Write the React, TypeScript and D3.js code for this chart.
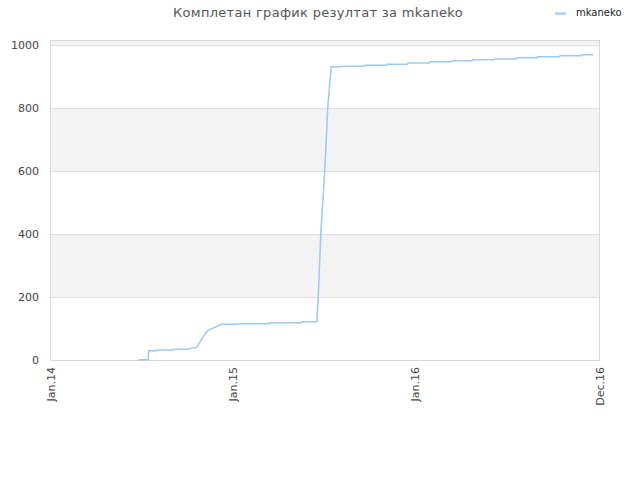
import { useEffect, useRef } from "react";
import * as d3 from "d3";

// chart text
const title = "Комплетан график резултат за mkaneko";
const seriesName = "mkaneko";

// x axis: tick dates and their labels
const tickDates = ["2014-01-01", "2015-01-01", "2016-01-01", "2017-01-06"];
const tickLabels = ["Jan.14", "Jan.15", "Jan.16", "Dec.16"];

// y axis ticks
const yTicks = [0, 200, 400, 600, 800, 1000];

// series (step corners)
const dates = [
  "2014-06-26", "2014-07-15", "2014-07-16", "2014-08-02", "2014-08-03",
  "2014-09-03", "2014-09-04", "2014-10-05", "2014-10-06", "2014-10-20",
  "2014-11-07", "2014-11-13", "2014-12-09", "2015-01-12", "2015-01-13",
  "2015-03-15", "2015-03-16", "2015-05-18", "2015-05-19", "2015-06-18",
  "2015-06-21", "2015-06-26", "2015-07-04", "2015-07-10", "2015-07-17",
  "2015-08-08", "2015-08-09", "2015-09-22", "2015-09-23", "2015-11-05",
  "2015-11-06", "2015-12-17", "2015-12-18", "2016-01-30", "2016-01-31",
  "2016-03-14", "2016-03-15", "2016-04-25", "2016-04-26", "2016-06-08",
  "2016-06-09", "2016-07-22", "2016-07-23", "2016-09-02", "2016-09-03",
  "2016-10-17", "2016-10-18", "2016-11-30", "2016-12-01", "2016-12-22",
  "2016-12-23",
];
const values = [
  1, 1, 29, 29, 32,
  32, 34, 34, 37, 40,
  86, 95, 113, 113, 115,
  115, 118, 118, 121, 121,
  200, 400, 600, 800, 930,
  930, 932, 932, 935, 935,
  938, 938, 942, 942, 946,
  946, 949, 949, 952, 952,
  955, 955, 959, 959, 962,
  962, 965, 965, 968, 968,
  970,
];

const W = 640;
const H = 480;
const margin = { top: 40, right: 40, bottom: 120, left: 51 };
const textColor = "#444";
const lineColor = "#99c9f5";

export default function App() {
  const ref = useRef<SVGSVGElement>(null);

  useEffect(() => {
    const svg = d3.select(ref.current);
    svg.selectAll("*").remove();

    const parse = d3.utcParse("%Y-%m-%d");
    const data = dates.map((d, i) => ({ date: parse(d) as Date, value: values[i] }));

    const x = d3
      .scaleUtc()
      .domain([parse(tickDates[0]) as Date, parse(tickDates[3]) as Date])
      .range([margin.left, W - margin.right]);
    const y = d3.scaleLinear().domain([0, 1015]).range([H - margin.bottom, margin.top]);

    const plotW = W - margin.right - margin.left;

    // alternating bands
    const bands = [[200, 400], [600, 800], [1000, 1015]];
    svg
      .append("g")
      .selectAll("rect")
      .data(bands)
      .join("rect")
      .attr("x", margin.left)
      .attr("width", plotW)
      .attr("y", (d) => y(d[1]))
      .attr("height", (d) => y(d[0]) - y(d[1]))
      .attr("fill", "#f3f3f3");

    // grid lines
    svg
      .append("g")
      .selectAll("line")
      .data(yTicks.slice(1))
      .join("line")
      .attr("x1", margin.left)
      .attr("x2", W - margin.right)
      .attr("y1", (d) => Math.round(y(d)) + 0.5)
      .attr("y2", (d) => Math.round(y(d)) + 0.5)
      .attr("stroke", "#e0e0e0");

    // frame
    svg
      .append("rect")
      .attr("x", margin.left - 0.5)
      .attr("y", margin.top + 0.5)
      .attr("width", plotW)
      .attr("height", H - margin.bottom - margin.top)
      .attr("fill", "none")
      .attr("stroke", "#d8d8d8");

    // y labels
    svg
      .append("g")
      .attr("font-family", "DejaVu Sans, sans-serif")
      .attr("font-size", 11)
      .attr("fill", textColor)
      .attr("text-anchor", "end")
      .selectAll("text")
      .data(yTicks)
      .join("text")
      .attr("x", 39)
      .attr("y", (d) => y(d))
      .attr("dy", "0.35em")
      .text((d) => d);

    // x labels
    svg
      .append("g")
      .attr("font-family", "DejaVu Sans, sans-serif")
      .attr("font-size", 11)
      .attr("fill", textColor)
      .attr("text-anchor", "end")
      .selectAll("text")
      .data(tickDates)
      .join("text")
      .attr("transform", (d) => `translate(${x(parse(d) as Date) + 4},${H - margin.bottom + 7}) rotate(-90)`)
      .text((_, i) => tickLabels[i]);

    // the line
    const line = d3
      .line<{ date: Date; value: number }>()
      .x((d) => x(d.date))
      .y((d) => y(d.value));
    svg
      .append("path")
      .datum(data)
      .attr("d", line)
      .attr("fill", "none")
      .attr("stroke", lineColor)
      .attr("stroke-width", 1.5);

    // title
    svg
      .append("text")
      .attr("x", 318)
      .attr("y", 17)
      .attr("text-anchor", "middle")
      .attr("font-family", "DejaVu Sans, sans-serif")
      .attr("font-size", 13)
      .attr("letter-spacing", 0.3)
      .attr("fill", "#555")
      .text(title);

    // legend
    svg
      .append("line")
      .attr("x1", 555)
      .attr("x2", 566)
      .attr("y1", 13.5)
      .attr("y2", 13.5)
      .attr("stroke", lineColor)
      .attr("stroke-width", 2);
    svg
      .append("text")
      .attr("x", 576)
      .attr("y", 16)
      .attr("font-family", "DejaVu Sans, sans-serif")
      .attr("font-size", 10)
      .attr("fill", "#222")
      .text(seriesName);
  }, []);

  return <svg ref={ref} width={W} height={H} style={{ position: "absolute", left: 0, top: 0 }} />;
}
